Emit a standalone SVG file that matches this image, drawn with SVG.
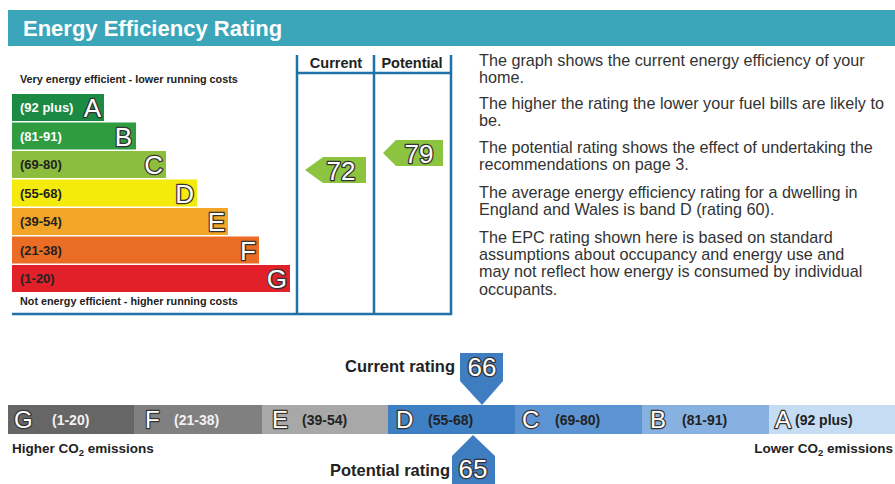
<svg xmlns="http://www.w3.org/2000/svg" width="895" height="484" viewBox="0 0 895 484">
<style>
text{font-family:"Liberation Sans",Arial,sans-serif}
.rng{font-size:13px;font-weight:bold;fill:#222}
.rngw{font-size:13px;font-weight:bold;fill:#fff}
.brng{font-size:14px;font-weight:bold;fill:#222}
.brngw{font-size:14px;font-weight:bold;fill:#f2f2f2}
.let{font-size:26px;fill:#fff;stroke:#333;stroke-width:2.6;paint-order:stroke;stroke-linejoin:round}
.blet{font-size:24px;fill:#fff;stroke:#333;stroke-width:2.4;paint-order:stroke;stroke-linejoin:round}
.num{font-size:26px;fill:#fff;stroke:#333;stroke-width:2.6;paint-order:stroke;stroke-linejoin:round}
.body{font-size:16.2px;fill:#333}
.small{font-size:10.8px;font-weight:bold;fill:#222}
.col{font-size:14.5px;font-weight:bold;fill:#222}
.lbl{font-size:16.5px;font-weight:bold;fill:#222}
.em{font-size:13.5px;font-weight:bold;fill:#222}
.ln{stroke:#1f72a8;stroke-width:2.5;fill:none}
</style>
<rect width="895" height="484" fill="#fff"/>
<g id="header">
<rect x="8" y="10" width="887" height="36" fill="#3ba6b9"/>
<text x="23" y="36" font-size="22" font-weight="bold" fill="#fff">Energy Efficiency Rating</text>
</g>
<g id="frame">
<line class="ln" x1="297" y1="55" x2="297" y2="315"/>
<line class="ln" x1="374" y1="55" x2="374" y2="315"/>
<line class="ln" x1="451" y1="55" x2="451" y2="315"/>
<line class="ln" x1="297" y1="73" x2="451" y2="73"/>
<line class="ln" x1="12" y1="314" x2="452" y2="314"/>
<text class="col" x="336" y="68" text-anchor="middle">Current</text>
<text class="col" x="412" y="68" text-anchor="middle">Potential</text>
<text class="small" x="20" y="83">Very energy efficient - lower running costs</text>
<text class="small" x="20" y="305">Not energy efficient - higher running costs</text>
</g>
<g id="band-A"><rect x="12" y="94" width="92" height="27" fill="#1b8a43"/><text class="rngw" x="20" y="112">(92 plus)</text><text class="let" x="101" y="117" text-anchor="end">A</text></g>
<g id="band-B"><rect x="12" y="122.5" width="124" height="27" fill="#2f9c3f"/><text class="rngw" x="20" y="140.5">(81-91)</text><text class="let" x="132" y="145.5" text-anchor="end">B</text></g>
<g id="band-C"><rect x="12" y="151" width="154" height="27" fill="#8dbd3d"/><text class="rng" x="20" y="169">(69-80)</text><text class="let" x="163" y="174" text-anchor="end">C</text></g>
<g id="band-D"><rect x="12" y="179.5" width="185" height="27" fill="#f4ea0c"/><text class="rng" x="20" y="197.5">(55-68)</text><text class="let" x="194" y="202.5" text-anchor="end">D</text></g>
<g id="band-E"><rect x="12" y="208" width="216" height="27" fill="#f2a526"/><text class="rng" x="20" y="226">(39-54)</text><text class="let" x="225" y="231" text-anchor="end">E</text></g>
<g id="band-F"><rect x="12" y="236.5" width="247" height="27" fill="#eb6d25"/><text class="rng" x="20" y="254.5">(21-38)</text><text class="let" x="256" y="259.5" text-anchor="end">F</text></g>
<g id="band-G"><rect x="12" y="265" width="278" height="27" fill="#e1202a"/><text class="rng" x="20" y="283">(1-20)</text><text class="let" x="287" y="288" text-anchor="end">G</text></g>
<g id="current-72">
<polygon points="305,170 323,157 366,157 366,183 323,183" fill="#8cc43f"/>
<text class="num" x="341" y="180" text-anchor="middle">72</text>
</g>
<g id="potential-79">
<polygon points="383,153 396,140 443,140 443,166 396,166" fill="#8cc43f"/>
<text class="num" x="419" y="163" text-anchor="middle">79</text>
</g>
<g id="description">
<text class="body" x="479" y="66">The graph shows the current energy efficiency of your</text>
<text class="body" x="479" y="83">home.</text>
<text class="body" x="479" y="109">The higher the rating the lower your fuel bills are likely to</text>
<text class="body" x="479" y="126">be.</text>
<text class="body" x="479" y="153">The potential rating shows the effect of undertaking the</text>
<text class="body" x="479" y="170">recommendations on page 3.</text>
<text class="body" x="479" y="198">The average energy efficiency rating for a dwelling in</text>
<text class="body" x="479" y="215">England and Wales is band D (rating 60).</text>
<text class="body" x="479" y="243">The EPC rating shown here is based on standard</text>
<text class="body" x="479" y="260">assumptions about occupancy and energy use and</text>
<text class="body" x="479" y="277">may not reflect how energy is consumed by individual</text>
<text class="body" x="479" y="295">occupants.</text>
</g>
<g id="co2-G"><rect x="8" y="405" width="127" height="29" fill="#666"/><text class="blet" x="14" y="428">G</text><text class="brngw" x="52" y="425">(1-20)</text></g>
<g id="co2-F"><rect x="134" y="405" width="129" height="29" fill="#808080"/><text class="blet" x="145" y="428">F</text><text class="brngw" x="174" y="425">(21-38)</text></g>
<g id="co2-E"><rect x="262" y="405" width="127" height="29" fill="#a8a8a8"/><text class="blet" x="272" y="428">E</text><text class="brng" x="302" y="425">(39-54)</text></g>
<g id="co2-D"><rect x="388" y="405" width="128" height="29" fill="#3f7fc4"/><text class="blet" x="396" y="428">D</text><text class="brng" x="428" y="425">(55-68)</text></g>
<g id="co2-C"><rect x="515" y="405" width="128" height="29" fill="#5c93d3"/><text class="blet" x="522" y="428">C</text><text class="brng" x="555" y="425">(69-80)</text></g>
<g id="co2-B"><rect x="642" y="405" width="128" height="29" fill="#87b1e1"/><text class="blet" x="650" y="428">B</text><text class="brng" x="682" y="425">(81-91)</text></g>
<g id="co2-A"><rect x="769" y="405" width="126" height="29" fill="#c6dcf2"/><text class="blet" x="775" y="428">A</text><text class="brng" x="795" y="425">(92 plus)</text></g>
<g id="co2-labels">
<text class="em" x="12" y="453">Higher CO<tspan font-size="9.5" dy="3">2</tspan><tspan dy="-3"> emissions</tspan></text>
<text class="em" x="893" y="453" text-anchor="end">Lower CO<tspan font-size="9.5" dy="3">2</tspan><tspan dy="-3"> emissions</tspan></text>
</g>
<g id="current-rating">
<text class="lbl" x="455" y="372" text-anchor="end">Current rating</text>
<polygon points="460,353 503,353 503,381 482,405 460,381" fill="#3f7dc1"/>
<text class="num" x="482" y="376" text-anchor="middle" font-size="23">66</text>
</g>
<g id="potential-rating">
<text class="lbl" x="450" y="476" text-anchor="end">Potential rating</text>
<polygon points="473,435 495,456 495,484 452,484 452,456" fill="#3f7dc1"/>
<text class="num" x="473" y="478" text-anchor="middle" font-size="21">65</text>
</g>
</svg>
